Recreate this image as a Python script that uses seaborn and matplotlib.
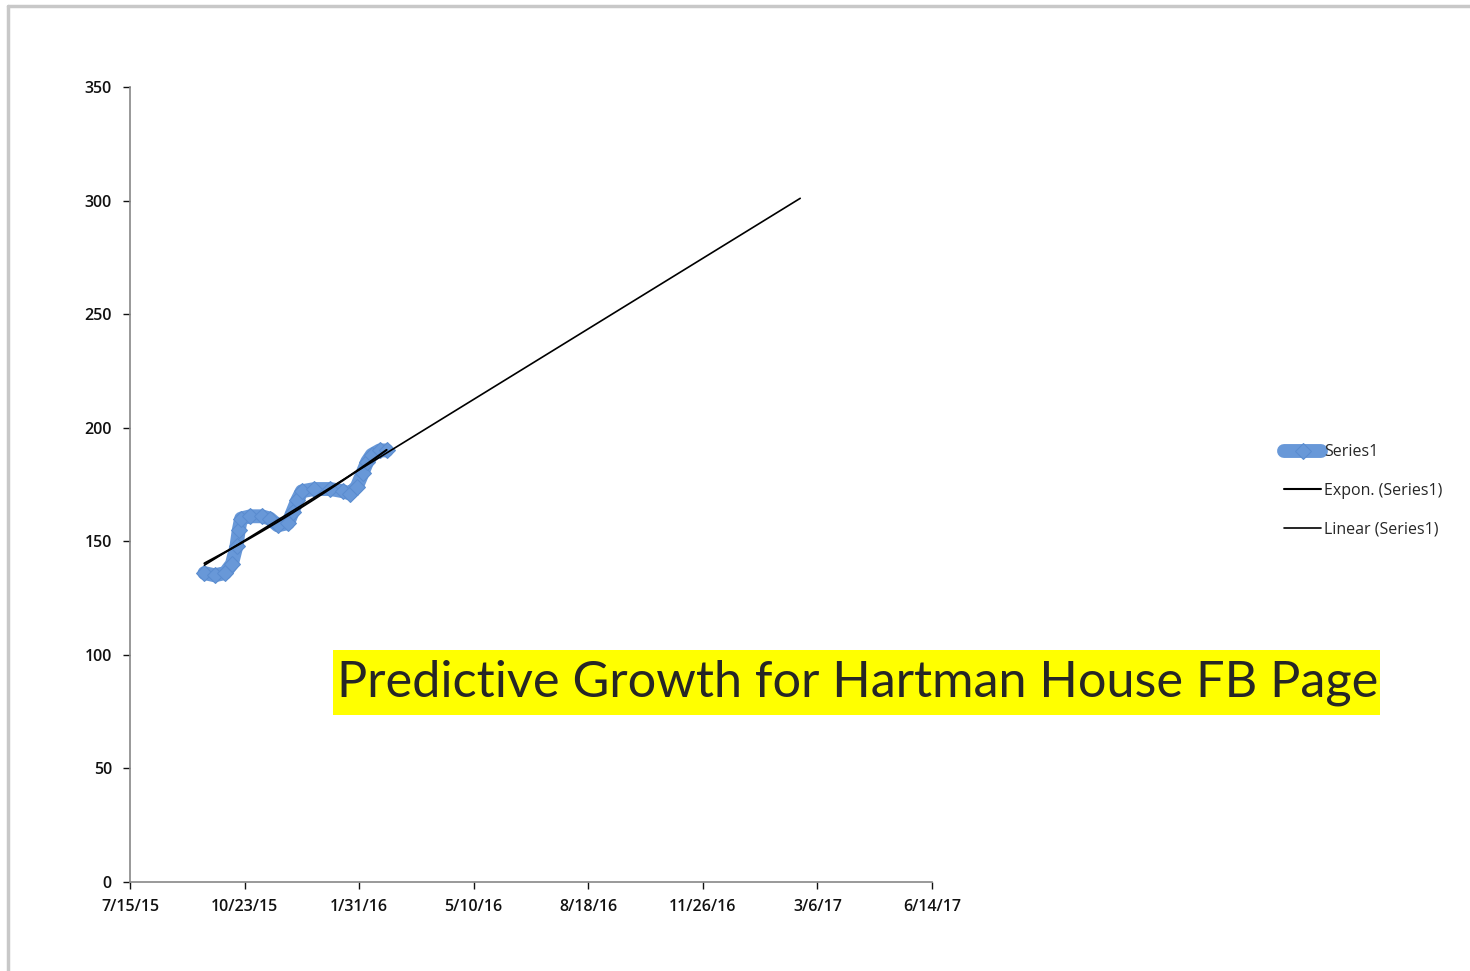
import numpy as np
import pandas as pd
import seaborn as sns
import matplotlib.pyplot as plt
from matplotlib.lines import Line2D
from matplotlib.patches import Rectangle

# data (page likes)
dates = ["2015-09-18", "2015-09-27", "2015-10-06", "2015-10-12", "2015-10-16",
         "2015-10-18", "2015-10-20", "2015-10-28", "2015-11-07", "2015-11-14",
         "2015-11-21", "2015-11-30", "2015-12-04", "2015-12-08", "2015-12-12",
         "2015-12-23", "2016-01-06", "2016-01-17", "2016-01-23", "2016-01-29",
         "2016-02-03", "2016-02-07", "2016-02-11", "2016-02-18", "2016-02-24"]
likes = [136, 135, 136, 140, 148,
         155, 160, 161, 161, 160,
         157, 158, 163, 168, 172,
         173, 173, 172, 171, 174,
         180, 185, 188, 190, 190]
forecast_end = "2017-02-19"
tick_dates = ["2015-07-15", "2015-10-23", "2016-01-31", "2016-05-10",
              "2016-08-18", "2016-11-26", "2017-03-06", "2017-06-14"]
tick_labels = ["7/15/15", "10/23/15", "1/31/16", "5/10/16",
               "8/18/16", "11/26/16", "3/6/17", "6/14/17"]
y_ticks = [0, 50, 100, 150, 200, 250, 300, 350]
title = "Predictive Growth for Hartman House FB Page"

df = pd.DataFrame({"date": pd.to_datetime(dates), "likes": likes})

# trend lines fitted on the series
t0 = df["date"].min()
days = (df["date"] - t0).dt.days.values
lin = np.polyfit(days, df["likes"], 1)
expo = np.polyfit(days, np.log(df["likes"]), 1)

lin_dates = pd.to_datetime([dates[0], forecast_end])
lin_days = (lin_dates - t0).days.values
lin_df = pd.DataFrame({"date": lin_dates, "likes": np.polyval(lin, lin_days)})
exp_df = pd.DataFrame({"date": df["date"], "likes": np.exp(np.polyval(expo, days))})

sns.set_style("ticks")
plt.rcParams["font.family"] = ["Open Sans", "DejaVu Sans"]

fig = plt.figure(figsize=(14.7, 9.71), dpi=100)
ax = fig.add_axes([0.0884, 0.0917, 0.5456, 0.8187])

sns.lineplot(data=df, x="date", y="likes", ax=ax, color="#6898d8", linewidth=10,
             marker="D", markersize=8, markeredgecolor="#5a8ccf", label="Series1")
sns.lineplot(data=exp_df, x="date", y="likes", ax=ax, color="black",
             linewidth=1.5, label="Expon. (Series1)")
sns.lineplot(data=lin_df, x="date", y="likes", ax=ax, color="black",
             linewidth=1.2, label="Linear (Series1)")

ax.set_xlim(pd.Timestamp(tick_dates[0]), pd.Timestamp(tick_dates[-1]))
ax.set_ylim(0, 350)
ax.set_xticks(pd.to_datetime(tick_dates))
ax.set_xticklabels(tick_labels)
ax.set_yticks(y_ticks)
ax.set_xlabel("")
ax.set_ylabel("")
ax.tick_params(labelsize=11.5, colors="#111111", length=5, width=1)
ax.tick_params(axis="x", pad=7)
ax.tick_params(axis="y", pad=8)
for lbl in ax.get_xticklabels() + ax.get_yticklabels():
    lbl.set_fontweight("semibold")
for side in ["left", "bottom"]:
    ax.spines[side].set_color("#888888")
    ax.spines[side].set_linewidth(1.2)
sns.despine(ax=ax)

leg = ax.legend(loc="center left", frameon=False, fontsize=11.5,
                handlelength=2.3, handletextpad=0.2, labelspacing=1.42)
leg.set_bbox_to_anchor((1270 / 1470, 1 - 491 / 971), transform=fig.transFigure)

# yellow highlighted title
fig.add_artist(Rectangle((333 / 1470, 1 - 715 / 971), 1047 / 1470, 65 / 971,
                         facecolor="#ffff00", edgecolor="none",
                         transform=fig.transFigure, zorder=2))
fig.text(337 / 1470, 1 - 683 / 971, title, fontsize=36.4, family="Lato",
         va="center", ha="left", zorder=3)

# gray frame of the screenshot
fig.add_artist(Line2D([8 / 1470, 1], [1 - 6 / 971, 1 - 6 / 971],
                      color="#c8c8c8", linewidth=2.5, transform=fig.transFigure))
fig.add_artist(Line2D([8 / 1470, 8 / 1470], [0, 1 - 6 / 971],
                      color="#c8c8c8", linewidth=2.5, transform=fig.transFigure))

fig.savefig("out.png", dpi=100)
